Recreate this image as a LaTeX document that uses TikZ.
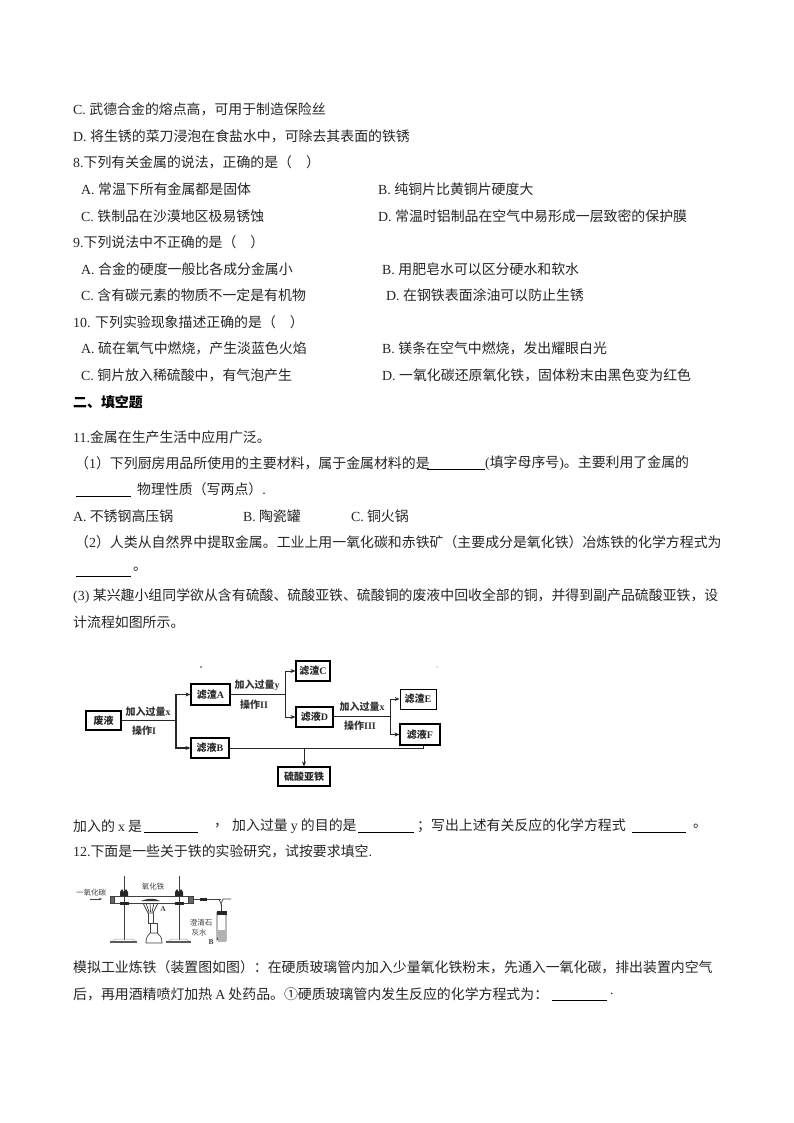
\documentclass[tikz,border=0pt]{standalone}
\usepackage{fontspec}
\setmainfont{Noto Sans CJK SC}
\newfontfamily\latf{Liberation Serif}
\newcommand{\lat}[1]{{\latf #1}}
\newcommand{\qc}{^^^^ff0c}
\newcommand{\ql}{^^^^ff08}
\newcommand{\qr}{^^^^ff09}
\newcommand{\qm}{^^^^ff1a}
\newcommand{\qs}{^^^^ff1b}
\usetikzlibrary{arrows.meta}
\tikzset{
 line/.style={anchor=west,inner sep=0pt,font=\fontsize{13.9}{14}\selectfont,text=black!85},
 head/.style={anchor=west,inner sep=0pt,font=\fontsize{13.9}{14}\selectfont\bfseries},
 blank/.style={draw=black,line width=0.8pt},
 flowbox/.style={draw=black,line width=1.2pt,fill=white,inner sep=0pt,font=\fontsize{10}{11}\selectfont\bfseries,text=black!85},
 flowtxt/.style={inner sep=0pt,font=\fontsize{10}{11}\selectfont\bfseries,text=black!80},
 flow/.style={draw=black!85,line width=1pt,-{Stealth[length=5pt,width=4pt]}},
 flowp/.style={draw=black!85,line width=1pt},
 appt/.style={inner sep=0pt,font=\fontsize{7.5}{8}\selectfont,text=black!75},
 glass/.style={draw=black!75,line width=0.7pt}
}
\begin{document}
\begin{tikzpicture}[x=1pt,y=-1pt]
\useasboundingbox (0,0) rectangle (794,1123);
\fill[white] (0,0) rectangle (794,1123);
% text lines
\node[line] (t1) at (73,109) {\lat{C. }武德合金的熔点高\qc 可用于制造保险丝};
\node[line] (t2) at (73,136) {\lat{D. }将生锈的菜刀浸泡在食盐水中\qc 可除去其表面的铁锈};
\node[line] (t3) at (73,162) {\lat{8.}下列有关金属的说法\qc 正确的是\ql\quad\qr};
\node[line] (t4) at (81,189) {\lat{A. }常温下所有金属都是固体};
\node[line] (t5) at (378,189) {\lat{B. }纯铜片比黄铜片硬度大};
\node[line] (t6) at (81,216) {\lat{C. }铁制品在沙漠地区极易锈蚀};
\node[line] (t7) at (378,216) {\lat{D. }常温时铝制品在空气中易形成一层致密的保护膜};
\node[line] (t8) at (73,242) {\lat{9.}下列说法中不正确的是\ql\quad\qr};
\node[line] (t9) at (81,269) {\lat{A. }合金的硬度一般比各成分金属小};
\node[line] (t10) at (382,269) {\lat{B. }用肥皂水可以区分硬水和软水};
\node[line] (t11) at (81,295) {\lat{C. }含有碳元素的物质不一定是有机物};
\node[line] (t12) at (386,295) {\lat{D. }在钢铁表面涂油可以防止生锈};
\node[line] (t13) at (73,322) {\lat{10. }下列实验现象描述正确的是\ql\quad\qr};
\node[line] (t14) at (81,348) {\lat{A. }硫在氧气中燃烧\qc 产生淡蓝色火焰};
\node[line] (t15) at (382,348) {\lat{B. }镁条在空气中燃烧\qc 发出耀眼白光};
\node[line] (t16) at (81,375) {\lat{C. }铜片放入稀硫酸中\qc 有气泡产生};
\node[line] (t17) at (382,375) {\lat{D. }一氧化碳还原氧化铁\qc 固体粉末由黑色变为红色};
\node[head] (t18) at (73,402) {二、填空题};
\node[line] (t19) at (73,437) {\lat{11.}金属在生产生活中应用广泛。};
\node[line] (t20) at (75,463) {\ql\lat{1}\qr 下列厨房用品所使用的主要材料\qc 属于金属材料的是};
\node[line] (t21) at (485,463) {\lat{(}填字母序号\lat{)}。主要利用了金属的};
\draw[blank] (427,469) -- (485,469);
\draw[blank] (76,496) -- (131,496);
\node[line] (t22) at (137,489) {物理性质\ql 写两点\qr\lat{.}};
\node[line] (t23) at (73,516) {\lat{A.} 不锈钢高压锅};
\node[line] (t24) at (243,516) {\lat{B.} 陶瓷罐};
\node[line] (t25) at (351,516) {\lat{C.} 铜火锅};
\node[line] (t26) at (75,542) {\ql\lat{2}\qr 人类从自然界中提取金属。工业上用一氧化碳和赤铁矿\ql 主要成分是氧化铁\qr 冶炼铁的化学方程式为};
\draw[blank] (76,576) -- (131,576);
\node[line] (t27) at (133,569) {。};
\node[line] (t28) at (73,596) {\lat{(3) }某兴趣小组同学欲从含有硫酸、硫酸亚铁、硫酸铜的废液中回收全部的铜\qc 并得到副产品硫酸亚铁\qc 设};
\node[line] (t29) at (73,622) {计流程如图所示。};
\node[line] (t30) at (73,826) {加入的 \lat{x} 是};
\draw[blank] (144,832) -- (198,832);
\node[line] (t31) at (214,826) {\qc};
\node[line] (t32) at (232,826) {加入过量 \lat{y} 的目的是};
\draw[blank] (358,832) -- (414,832);
\node[line] (t33) at (417,826) {\qs 写出上述有关反应的化学方程式};
\draw[blank] (632,832) -- (686,832);
\node[line] (t34) at (693,826) {。};
\node[line] (t35) at (73,851) {\lat{12.}下面是一些关于铁的实验研究\qc 试按要求填空\lat{.}};
\node[line] (t36) at (73,967) {模拟工业炼铁\ql 装置图如图\qr\qm 在硬质玻璃管内加入少量氧化铁粉末\qc 先通入一氧化碳\qc 排出装置内空气};
\node[line] (t37) at (73,994) {后\qc 再用酒精喷灯加热 \lat{A} 处药品。①硬质玻璃管内发生反应的化学方程式为\qm};
\draw[blank] (552,1000) -- (607,1000);
\node[line] (t38) at (610,994) {\lat{.}};
% flow chart
\node[flowbox,minimum width=35pt,minimum height=19pt] (waste) at (103.5,720.5) {废液};
\node[flowbox,minimum width=39pt,minimum height=21pt] (A) at (210.5,694.5) {滤渣\lat{\textbf{A}}};
\node[flowbox,minimum width=38pt,minimum height=20pt] (B) at (210,748) {滤液\lat{\textbf{B}}};
\node[flowbox,minimum width=34pt,minimum height=20pt] (C) at (313,671) {滤渣\lat{\textbf{C}}};
\node[flowbox,minimum width=37pt,minimum height=20pt] (D) at (314.5,717) {滤液\lat{\textbf{D}}};
\node[flowbox,minimum width=36pt,minimum height=20pt,line width=0.8pt] (E) at (418,699) {滤渣\lat{\textbf{E}}};
\node[flowbox,minimum width=40pt,minimum height=21pt] (F) at (420,734.5) {滤液\lat{\textbf{F}}};
\node[flowbox,minimum width=52pt,minimum height=19pt] (S) at (304,776.5) {硫酸亚铁};
\coordinate (j1) at (176,720.5);
\coordinate (j2) at (285,694.5);
\coordinate (j3) at (390,716);
\coordinate (j4) at (304,748);
\coordinate (j5) at (423,748);
\draw[flowp] (waste) -- (j1);
\draw[flow,line width=1.3pt] (j1) |- (A);
\draw[flow,line width=1.3pt] (j1) |- (B);
\draw[flowp] (A) -- (j2);
\draw[flow] (j2) |- (C);
\draw[flow] (j2) |- (D);
\draw[flowp,line width=0.8pt] (D.east |- j3) -- (j3);
\draw[flow,line width=0.8pt] (j3) |- (E);
\draw[flow,line width=0.8pt] (j3) |- (F);
\draw[flowp] (B) -- (j5) -- (j5 |- F.south);
\draw[flow,line width=0.8pt] (j4) -- (S);
\node[flowtxt] (l1) at (148,712) {加入过量\lat{\textbf{x}}};
\node[flowtxt] (l2) at (144,731) {操作\lat{\textbf{I}}};
\node[flowtxt] (l3) at (257,685) {加入过量\lat{\textbf{y}}};
\node[flowtxt] (l4) at (254,705) {操作\lat{\textbf{II}}};
\node[flowtxt] (l5) at (362,707) {加入过量\lat{\textbf{x}}};
\node[flowtxt] (l6) at (360,726) {操作\lat{\textbf{III}}};
\fill[black!80] (201,667) circle (0.8pt);
\fill[black!50] (437,667) circle (0.7pt);
% apparatus
\draw[glass,line width=1pt] (124,876) -- (124,940);
\draw[glass,line width=1pt] (179,876) -- (179,940);
\fill[black!65] (110,941) rectangle (137,943);
\fill[black!65] (166,941) rectangle (191,943);
\draw[black!40,line width=0.5pt] (113,941) -- (116,939) -- (132,939) -- (135,941);
\draw[black!40,line width=0.5pt] (169,941) -- (172,939) -- (186,939) -- (189,941);
\draw[glass,line width=1pt] (112,896) -- (190,896);
\draw[glass,line width=1pt] (112,903) -- (190,903);
\draw[glass,fill=black!60] (110,896) rectangle (114,903);
\draw[glass,fill=black!60] (188,896) rectangle (193,903);
\fill[black!85] (120,892) -- (122,889) -- (124,892) -- (126,889) -- (128,892) -- (128,896) -- (120,896) -- cycle;
\fill[black!85] (120,902) rectangle (129,905);
\fill[black!85] (175,892) -- (177,889) -- (179,892) -- (181,889) -- (183,892) -- (183,896) -- (175,896) -- cycle;
\fill[black!85] (175,902) rectangle (184,905);
\draw[glass] (193,899) -- (221,899);
\fill[black!85] (200,897.5) rectangle (207,900.5);
\draw[glass] (221,904) -- (221,912);
\draw[glass] (219,899) -- (221,904) -- (223,899) -- (231,899);
\draw[glass] (217,912) -- (217,940) arc (180:360:4.5 and 3) -- (226,912);
\fill[black!85] (216.5,911) rectangle (226.5,915);
\fill[black!30] (217.5,930) rectangle (225.5,942);
\fill[black!80] (141,901) .. controls (148,898) and (155,898) .. (160,901) -- cycle;
\draw[glass] (143,903) -- (148,913) -- (153,913) -- (158,903);
\draw[glass] (146,903) -- (149,912);
\draw[glass] (150,903) -- (150.5,912);
\draw[glass] (154,903) -- (152,912);
\draw[glass] (148,913) -- (148,923);
\draw[glass] (153,913) -- (153,923);
\draw[glass] (148,923) -- (157,923) -- (157,933);
\draw[glass] (150,923) -- (150,933);
\draw[glass] (146,943) .. controls (146,937) and (148,935) .. (150,933) -- (157,933) .. controls (160,935) and (162,937) .. (162,943) -- cycle;
\draw[glass,-{Stealth[length=3pt,width=2.5pt]}] (90,899) -- (102,899);
\node[appt] (a1) at (91,892.5) {一氧化碳};
\node[appt] (a2) at (153,887) {氧化铁};
\node[appt] (a3) at (163,909) {\lat{\textbf{A}}};
\node[appt] (a4) at (201,923) {澄清石};
\node[appt] (a5) at (199,933) {灰水};
\node[appt] (a6) at (211,942) {\lat{\textbf{B}}};
\end{tikzpicture}
\end{document}
